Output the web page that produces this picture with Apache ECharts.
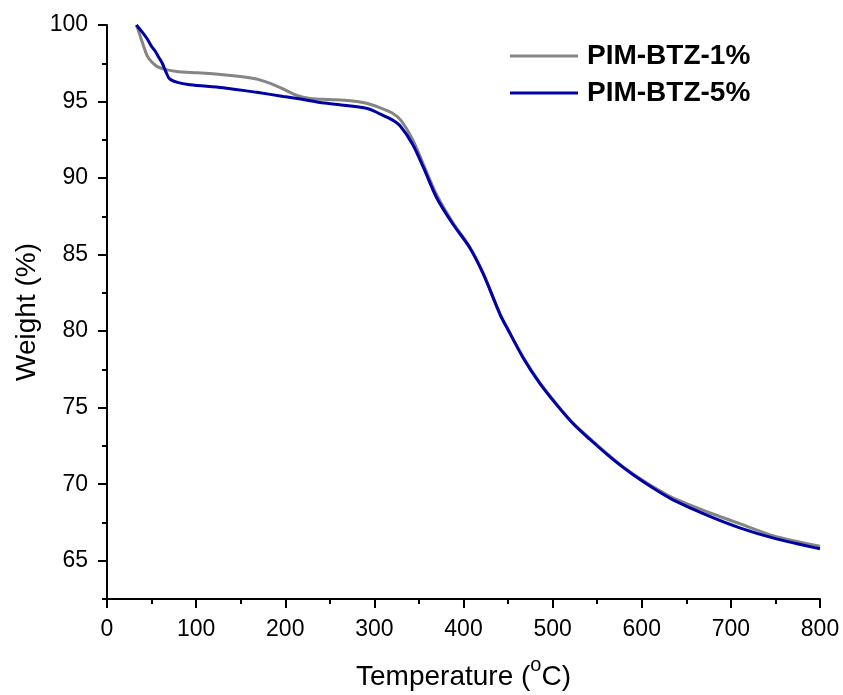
<!DOCTYPE html>
<html>
<head>
<meta charset="utf-8">
<script src="https://cdn.jsdelivr.net/npm/echarts@6/dist/echarts.min.js"></script>
<style>
  html, body { margin: 0; padding: 0; background: #fff; }
  #chart { width: 843px; height: 695px; }
</style>
</head>
<body>
<div id="chart"></div>
<script>
// TGA curves
const temp1 = [33, 36, 40, 45, 50, 56, 65, 80, 95, 130, 160, 175, 195, 213, 228, 250, 273, 290, 306, 320, 330, 343, 355, 370, 388, 407, 422, 441, 449, 467, 486, 505, 523, 542, 561, 579, 598, 618, 635, 673, 710, 748, 800];
const weight1 = [100, 99.5, 98.8, 98.0, 97.6, 97.3, 97.1, 96.95, 96.9, 96.75, 96.55, 96.35, 95.9, 95.4, 95.2, 95.13, 95.05, 94.9, 94.6, 94.25, 93.75, 92.5, 90.9, 88.9, 87.1, 85.5, 83.8, 81.1, 80.2, 78.3, 76.6, 75.2, 74.0, 72.98, 72.0, 71.15, 70.38, 69.65, 69.1, 68.2, 67.42, 66.62, 65.95];

const temp5 = [33, 40, 45, 50, 54, 58, 62, 66, 70, 79, 93, 130, 168, 198, 220, 239, 259, 292, 306, 320, 329, 343, 355, 370, 388, 407, 422, 441, 449, 467, 486, 505, 523, 542, 561, 579, 598, 618, 635, 673, 710, 748, 800];
const weight5 = [100, 99.5, 99.1, 98.6, 98.3, 97.9, 97.5, 96.95, 96.5, 96.25, 96.1, 95.9, 95.6, 95.33, 95.13, 94.93, 94.8, 94.55, 94.2, 93.8, 93.4, 92.2, 90.7, 88.7, 87.0, 85.45, 83.75, 81.1, 80.2, 78.25, 76.55, 75.15, 73.95, 72.92, 71.95, 71.1, 70.3, 69.55, 68.98, 67.98, 67.15, 66.48, 65.78];

const yMajorTicks = [65, 70, 75, 80, 85, 90, 95, 100];

const font = "'Liberation Sans', Arial, sans-serif";
const pairs = (xs, ys) => xs.map((x, i) => [x, ys[i]]);

const chart = echarts.init(document.getElementById('chart'));
chart.setOption({
  animation: false,
  backgroundColor: '#fff',
  grid: { left: 107, top: 25, width: 713, height: 574, containLabel: false, outerBoundsMode: 'none' },
  legend: {
    orient: 'vertical',
    left: 505,
    top: 37,
    icon: 'rect',
    itemWidth: 68,
    itemHeight: 3,
    itemGap: 9,
    textStyle: { fontFamily: font, fontSize: 28, fontWeight: 'bold', color: '#000', lineHeight: 28, padding: [0, 0, 0, 4] },
    data: ['PIM-BTZ-1%', 'PIM-BTZ-5%']
  },
  xAxis: {
    type: 'value',
    min: 0,
    max: 800,
    interval: 100,
    name: '{t|Temperature (}{sup|o}{t|C)}',
    nameLocation: 'middle',
    nameGap: 56,
    nameTextStyle: {
      fontFamily: font, fontSize: 28, color: '#000',
      rich: {
        t: { fontFamily: font, fontSize: 28, color: '#000', lineHeight: 36, verticalAlign: 'bottom' },
        sup: { fontFamily: font, fontSize: 20, color: '#000', lineHeight: 20, verticalAlign: 'top' }
      }
    },
    axisLine: { show: true, lineStyle: { color: '#000', width: 2 } },
    axisTick: { show: true, length: 9, lineStyle: { color: '#000', width: 2 } },
    minorTick: { show: true, splitNumber: 2, length: 5, lineStyle: { color: '#000', width: 2 } },
    axisLabel: { fontFamily: font, fontSize: 23, color: '#000', margin: 19 },
    splitLine: { show: false }
  },
  yAxis: [
    {
      type: 'value',
      min: 62.5,
      max: 100,
      interval: 2.5,
      position: 'left',
      name: 'Weight (%)',
      nameLocation: 'middle',
      nameRotate: 90,
      nameGap: 66,
      nameTextStyle: { fontFamily: font, fontSize: 28, color: '#000' },
      axisLine: { show: true, lineStyle: { color: '#000', width: 2 } },
      axisTick: { show: true, length: 5, lineStyle: { color: '#000', width: 2 } },
      axisLabel: { show: false },
      splitLine: { show: false }
    },
    {
      type: 'value',
      min: 62.5,
      max: 100,
      interval: 2.5,
      position: 'left',
      axisLine: { show: false },
      axisTick: { show: true, length: 9, customValues: yMajorTicks, lineStyle: { color: '#000', width: 2 } },
      axisLabel: { fontFamily: font, fontSize: 23, color: '#000', margin: 19, customValues: yMajorTicks },
      splitLine: { show: false }
    }
  ],
  series: [
    {
      name: 'PIM-BTZ-1%',
      type: 'line',
      yAxisIndex: 0,
      data: pairs(temp1, weight1),
      symbol: 'none',
      smooth: 0.3,
      lineStyle: { color: '#858585', width: 3 },
      itemStyle: { color: '#858585' }
    },
    {
      name: 'PIM-BTZ-5%',
      type: 'line',
      yAxisIndex: 0,
      data: pairs(temp5, weight5),
      symbol: 'none',
      smooth: 0.3,
      lineStyle: { color: '#0000a8', width: 3 },
      itemStyle: { color: '#0000a8' }
    }
  ]
});
</script>
</body>
</html>
